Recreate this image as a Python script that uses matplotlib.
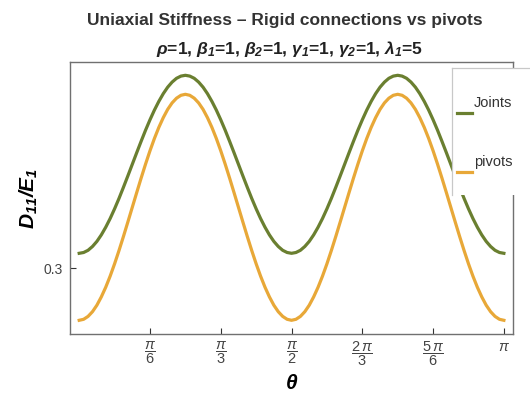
import numpy as np
import matplotlib
matplotlib.use("Agg")
import matplotlib.pyplot as plt
from matplotlib.lines import Line2D
from matplotlib.patches import Rectangle

plt.rcParams["font.family"] = ["Liberation Sans", "DejaVu Sans"]
plt.rcParams["mathtext.fontset"] = "custom"
plt.rcParams["mathtext.rm"] = "Liberation Sans"
plt.rcParams["mathtext.it"] = "Liberation Sans:italic"
plt.rcParams["mathtext.bf"] = "Liberation Sans:bold"
plt.rcParams["mathtext.bfit"] = "Liberation Sans:italic:bold"

theta_steps = list(range(97))
joints = [
    0.3150, 0.3158, 0.3180, 0.3218, 0.3269, 0.3334, 0.3411, 0.3498, 0.3595, 0.3699,
    0.3810, 0.3924, 0.4040, 0.4156, 0.4270, 0.4381, 0.4485, 0.4582, 0.4669, 0.4746,
    0.4811, 0.4862, 0.4900, 0.4922, 0.4930, 0.4922, 0.4900, 0.4862, 0.4811, 0.4746,
    0.4669, 0.4582, 0.4485, 0.4381, 0.4270, 0.4156, 0.4040, 0.3924, 0.3810, 0.3699,
    0.3595, 0.3498, 0.3411, 0.3334, 0.3269, 0.3218, 0.3180, 0.3158, 0.3150, 0.3158,
    0.3180, 0.3218, 0.3269, 0.3334, 0.3411, 0.3498, 0.3595, 0.3699, 0.3810, 0.3924,
    0.4040, 0.4156, 0.4270, 0.4381, 0.4485, 0.4582, 0.4669, 0.4746, 0.4811, 0.4862,
    0.4900, 0.4922, 0.4930, 0.4922, 0.4900, 0.4862, 0.4811, 0.4746, 0.4669, 0.4582,
    0.4485, 0.4381, 0.4270, 0.4156, 0.4040, 0.3924, 0.3810, 0.3699, 0.3595, 0.3498,
    0.3411, 0.3334, 0.3269, 0.3218, 0.3180, 0.3158, 0.3150]
pivots = [
    0.2480, 0.2490, 0.2519, 0.2566, 0.2631, 0.2714, 0.2811, 0.2922, 0.3045, 0.3178,
    0.3318, 0.3463, 0.3610, 0.3757, 0.3902, 0.4042, 0.4175, 0.4298, 0.4409, 0.4506,
    0.4589, 0.4654, 0.4701, 0.4730, 0.4740, 0.4730, 0.4701, 0.4654, 0.4589, 0.4506,
    0.4409, 0.4298, 0.4175, 0.4042, 0.3902, 0.3757, 0.3610, 0.3463, 0.3318, 0.3178,
    0.3045, 0.2922, 0.2811, 0.2714, 0.2631, 0.2566, 0.2519, 0.2490, 0.2480, 0.2490,
    0.2519, 0.2566, 0.2631, 0.2714, 0.2811, 0.2922, 0.3045, 0.3178, 0.3318, 0.3463,
    0.3610, 0.3757, 0.3902, 0.4042, 0.4175, 0.4298, 0.4409, 0.4506, 0.4589, 0.4654,
    0.4701, 0.4730, 0.4740, 0.4730, 0.4701, 0.4654, 0.4589, 0.4506, 0.4409, 0.4298,
    0.4175, 0.4042, 0.3902, 0.3757, 0.3610, 0.3463, 0.3318, 0.3178, 0.3045, 0.2922,
    0.2811, 0.2714, 0.2631, 0.2566, 0.2519, 0.2490, 0.2480]
series_names = ["Joints", "pivots"]
series_colors = ["#6a7f30", "#e8a838"]

xtick_vals = [np.pi / 6, np.pi / 3, np.pi / 2, 2 * np.pi / 3, 5 * np.pi / 6, np.pi]
xtick_labels = [r"$\dfrac{\pi}{6}$", r"$\dfrac{\pi}{3}$", r"$\dfrac{\pi}{2}$",
                r"$\dfrac{2\,\pi}{3}$", r"$\dfrac{5\,\pi}{6}$", r"$\pi$"]
ytick_vals = [0.3]
ytick_labels = ["0.3"]

theta = np.array(theta_steps) * np.pi / 96

fig = plt.figure(figsize=(5.3, 3.96), dpi=100)
ax = fig.add_axes([70 / 530, 1 - 334 / 396, 443 / 530, 272 / 396])

ax.plot(theta, joints, color=series_colors[0], lw=2.3)
ax.plot(theta, pivots, color=series_colors[1], lw=2.3)

ax.set_xlim(-0.068, 3.209)
ax.set_ylim(0.3 - (334 - 268.3) / 1000, 0.3 + (268.3 - 62) / 1000)

ax.set_xticks(xtick_vals)
ax.set_xticklabels(xtick_labels, fontsize=10.5, color="#444444")
ax.set_yticks(ytick_vals)
ax.set_yticklabels(ytick_labels, fontsize=10, color="#444444")
ax.tick_params(direction="in", length=4, width=0.8, color="#333333", pad=5)
ax.tick_params(axis="x", pad=4)
for s in ax.spines.values():
    s.set_color("#707070")
    s.set_linewidth(1.0)

ax.set_xlabel(r"$\mathbfit{\theta}$", fontsize=15, labelpad=4)
ax.set_ylabel(r"$\mathbfit{D_{11}/E_1}$", fontsize=15, labelpad=3)

fig.text(0.538, 1 - 20 / 396, "Uniaxial Stiffness \u2013 Rigid connections vs pivots",
         ha="center", va="center", fontsize=12.5, fontweight="bold", color="#333333")
fig.text(0.547, 1 - 49 / 396,
         r"$\mathbfit{\rho}$=1, $\mathbfit{\beta_1}$=1, $\mathbfit{\beta_2}$=1, "
         r"$\mathbfit{\gamma_1}$=1, $\mathbfit{\gamma_2}$=1, $\mathbfit{\lambda_1}$=5",
         ha="center", va="center", fontsize=12.5, fontweight="bold", color="#222222")

# legend box (partially outside the figure edge, as in the original)
lx0, ly0, ly1 = 452 / 530, 1 - 195 / 396, 1 - 68 / 396
fig.patches.append(Rectangle((lx0, ly0), 1 - lx0, ly1 - ly0, transform=fig.transFigure,
                             facecolor="white", edgecolor="none", zorder=5))
fig.lines.append(Line2D([lx0, lx0], [ly0, ly1], transform=fig.transFigure,
                        color="#c8c8c8", lw=0.9, zorder=6))
fig.lines.append(Line2D([lx0, 1.0], [ly1, ly1], transform=fig.transFigure,
                        color="#c8c8c8", lw=0.9, zorder=6))
for name, col, yline, ytext in zip(series_names, series_colors, [112.5, 172], [103, 162]):
    fig.lines.append(Line2D([457 / 530, 472 / 530], [1 - yline / 396] * 2,
                            transform=fig.transFigure, color=col, lw=2.3, zorder=6))
    fig.text(474 / 530, 1 - ytext / 396, name, ha="left", va="center",
             fontsize=10.5, color="#333333", zorder=7)

fig.savefig("out.png", dpi=100)
